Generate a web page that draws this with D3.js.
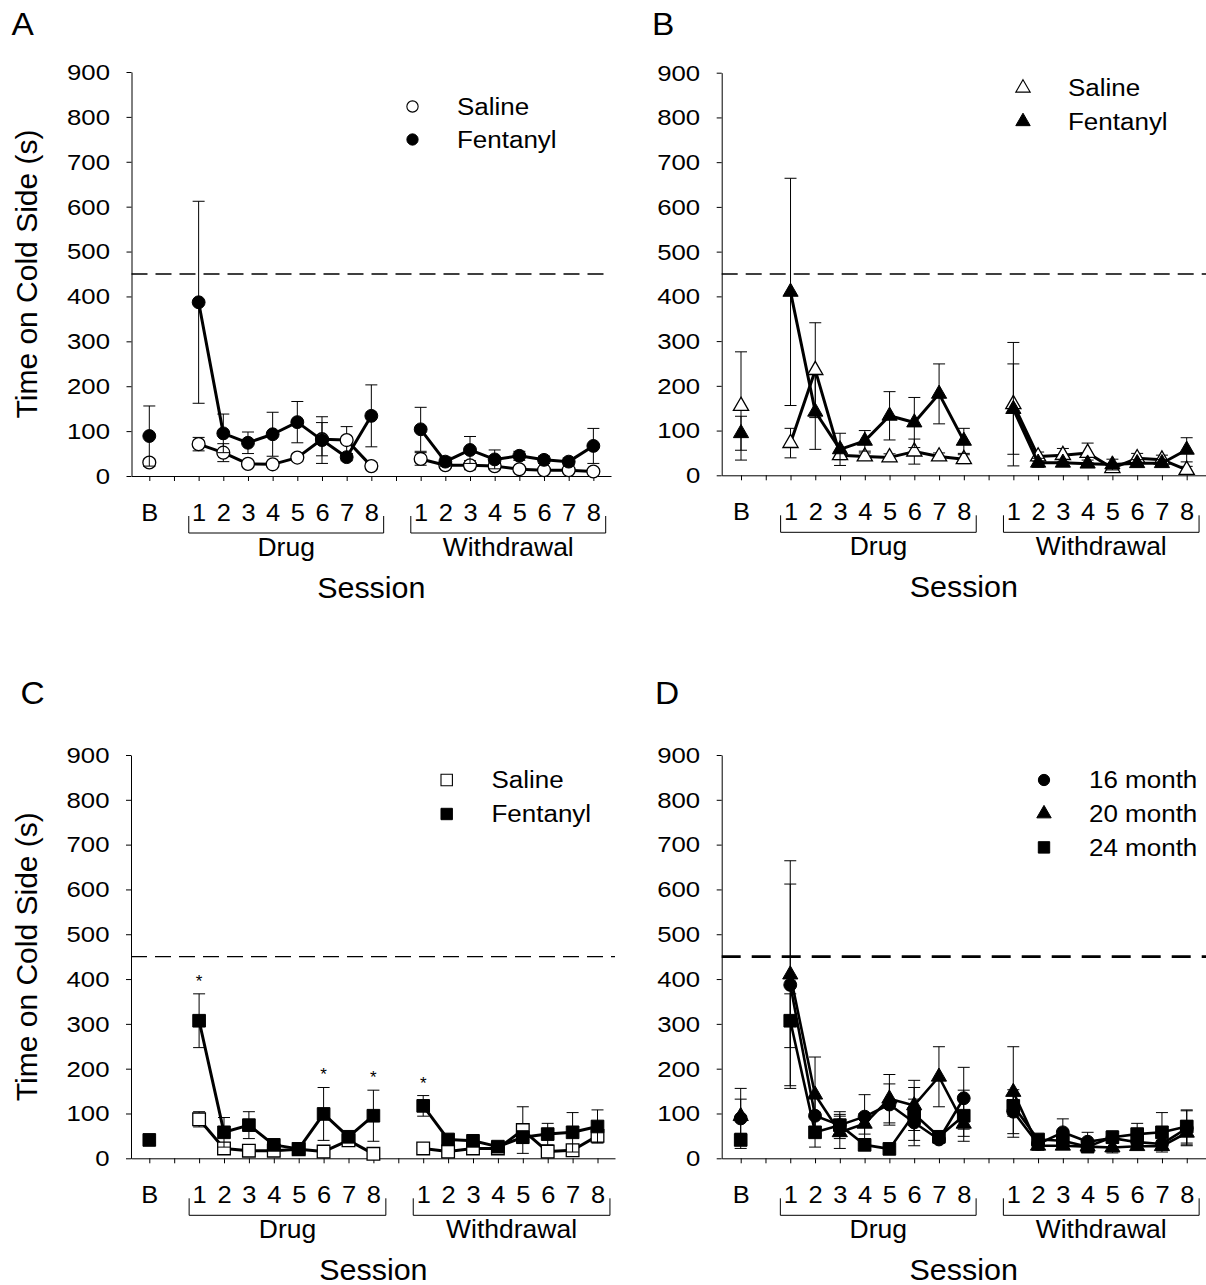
<!DOCTYPE html>
<html>
<head>
<meta charset="utf-8">
<script src="https://cdn.jsdelivr.net/npm/d3@7"></script>
<style>
  html, body { margin: 0; padding: 0; background: #fff; }
  svg { display: block; }
  text { font-family: "Liberation Sans", Arial, sans-serif; fill: #000; }
</style>
</head>
<body>
<svg id="fig" width="1206" height="1285"></svg>
<script>
// Session positions along the x axis: baseline, gap, 8 drug days, gap, 8 withdrawal days
const sessions = ["B", "", "1", "2", "3", "4", "5", "6", "7", "8", "", "1", "2", "3", "4", "5", "6", "7", "8"];
const phaseNames = ["Drug", "Withdrawal"];
const phaseStart = [2, 11];
const phaseEnd = [9, 18];
const yTicks = [0, 100, 200, 300, 400, 500, 600, 700, 800, 900];
const threshold = 450;

const legendTreat = ["Saline", "Fentanyl"];
const legendAge = ["16 month", "20 month", "24 month"];

// 16 month (circles)
const sal16Mean = [30, null, 71, 52, 27, 26, 41, 82, 80, 22, null, 38, 24, 24, 22, 15, 13, 13, 10];
const sal16Sem  = [8, null, 15, 20, 5, 5, 8, 37, 30, 8, null, 14, 6, 10, 8, 5, 5, 4, 5];
const fen16Mean = [89, null, 387, 95, 74, 93, 120, 80, 42, 134, null, 104, 32, 58, 37, 45, 36, 32, 67];
const fen16Sem  = [67, null, 225, 43, 24, 49, 46, 52, 8, 69, null, 49, 10, 30, 21, 10, 8, 8, 39];

// 20 month (triangles)
const sal20Mean = [155, null, 72, 235, 45, 42, 40, 53, 42, 36, null, 159, 42, 45, 50, 16, 38, 35, 12];
const sal20Sem  = [121, null, 33, 106, 10, 8, 8, 28, 8, 10, null, 138, 10, 15, 22, 6, 11, 10, 8];
const fen20Mean = [94, null, 410, 142, 58, 77, 133, 118, 182, 77, null, 148, 28, 28, 26, 24, 27, 27, 57];
const fen20Sem  = [38, null, 254, 84, 36, 23, 54, 56, 67, 28, null, 101, 10, 8, 8, 12, 8, 8, 27];

// 24 month (squares)
const sal24Mean = [null, null, 87, 22, 17, 17, 20, 15, 40, 10, null, 22, 15, 22, 22, 63, 15, 18, 50];
const sal24Sem  = [null, null, 17, 10, 5, 5, 5, 5, 12, 5, null, 6, 5, 5, 6, 52, 5, 6, 15];
const fen24Mean = [41, null, 307, 58, 74, 30, 21, 99, 48, 95, null, 117, 42, 39, 26, 47, 54, 58, 71];
const fen24Sem  = [5, null, 60, 33, 30, 8, 5, 59, 12, 57, null, 23, 8, 8, 6, 14, 24, 44, 37];
const fen24Sig  = [2, 7, 9, 11];   // sessions marked with an asterisk

const FONT = '"Liberation Sans", Arial, sans-serif';
const svg = d3.select("#fig");

// widen glyphs horizontally around their anchor point
function widen(sel, sx) {
  sel.each(function () {
    const t = d3.select(this);
    const x = +(t.attr("x") || 0);
    t.attr("x", x / sx).attr("transform", `scale(${sx},1)`);
  });
}

const panels = [
  { letter: "A", lx: 11.5, ly: 35, left: 131.5, x0: 149.3, step: 24.67, right: 611, top: 72, bottom: 476,
    yTitle: true, dash: "16,8", dashW: 1.3, lineW: 3,
    legend: { x: 412.5, y: 106.5, dy: 33, tx: 457, labels: legendTreat },
    series: [
      { mean: sal16Mean, sem: sal16Sem, shape: d3.symbolCircle, filled: false },
      { mean: fen16Mean, sem: fen16Sem, shape: d3.symbolCircle, filled: true }
    ] },
  { letter: "B", lx: 652, ly: 35, left: 721.7, x0: 741, step: 24.76, right: 1206, top: 72.7, bottom: 475.3,
    yTitle: false, dash: "16,8", dashW: 1.3, lineW: 3,
    legend: { x: 1023, y: 88, dy: 33.5, tx: 1068, labels: legendTreat },
    series: [
      { mean: sal20Mean, sem: sal20Sem, shape: d3.symbolTriangle, filled: false },
      { mean: fen20Mean, sem: fen20Sem, shape: d3.symbolTriangle, filled: true }
    ] },
  { letter: "C", lx: 20.5, ly: 704, left: 131, x0: 149.3, step: 24.9, right: 615, top: 755, bottom: 1158.3,
    yTitle: true, dash: "16,8", dashW: 1.3, lineW: 3, sig: { mean: fen24Mean, sem: fen24Sem, at: fen24Sig },
    legend: { x: 446.7, y: 780, dy: 34, tx: 491.5, labels: legendTreat },
    series: [
      { mean: sal24Mean, sem: sal24Sem, shape: d3.symbolSquare, filled: false },
      { mean: fen24Mean, sem: fen24Sem, shape: d3.symbolSquare, filled: true }
    ] },
  { letter: "D", lx: 655, ly: 704, left: 721.7, x0: 740.7, step: 24.78, right: 1206, top: 755, bottom: 1158.3,
    yTitle: false, dash: "19,11", dashW: 2.6, lineW: 2.6,
    legend: { x: 1044, y: 780, dy: 33.7, tx: 1089, labels: legendAge },
    legendShapes: [d3.symbolCircle, d3.symbolTriangle, d3.symbolSquare],
    series: [
      { mean: fen20Mean, sem: fen20Sem, shape: d3.symbolTriangle, filled: true },
      { mean: fen16Mean, sem: fen16Sem, shape: d3.symbolCircle, filled: true },
      { mean: fen24Mean, sem: fen24Sem, shape: d3.symbolSquare, filled: true }
    ] }
];

function markSize(shape, legend) {
  if (shape === d3.symbolCircle) return legend ? 100 : 130;
  if (shape === d3.symbolTriangle) return legend ? 90 : 100;
  return legend ? 130 : 160;
}

panels.forEach(p => {
  const g = svg.append("g");
  const x = d3.scaleLinear()
    .domain([(p.left - p.x0) / p.step, (p.right - p.x0) / p.step])
    .range([p.left, p.right]);
  const y = d3.scaleLinear().domain([0, 900]).range([p.bottom, p.top]);

  // panel letter
  widen(g.append("text").attr("x", p.lx).attr("y", p.ly)
    .attr("font-size", 31).text(p.letter), 1.08);

  // y axis
  const ya = g.append("g").attr("transform", `translate(${p.left},0)`)
    .call(d3.axisLeft(y).tickValues(yTicks).tickSize(5).tickSizeOuter(0).tickPadding(16.5));
  ya.attr("font-family", null).attr("font-size", null);
  ya.selectAll("text").attr("font-size", 23).style("font-family", FONT);
  widen(ya.selectAll("text"), 1.12);
  ya.selectAll("line, path").attr("stroke", "#000").attr("stroke-width", 1);

  // x axis
  const xa = g.append("g").attr("transform", `translate(0,${p.bottom})`)
    .call(d3.axisBottom(x).tickValues(d3.range(sessions.length)).tickFormat(i => sessions[i])
      .tickSize(5).tickSizeOuter(0).tickPadding(22.5));
  xa.attr("font-family", null).attr("font-size", null);
  xa.selectAll("text").attr("font-size", 24).style("font-family", FONT);
  widen(xa.selectAll("text"), 1.06);
  xa.selectAll("line, path").attr("stroke", "#000").attr("stroke-width", 1);

  // phase brackets and names
  phaseNames.forEach((name, k) => {
    const xs = x(phaseStart[k] - 0.4), xe = x(phaseEnd[k] + 0.5);
    g.append("path")
      .attr("d", `M${xs},${p.bottom + 40}V${p.bottom + 57}H${xe}V${p.bottom + 40}`)
      .attr("fill", "none").attr("stroke", "#000").attr("stroke-width", 1);
    widen(g.append("text").attr("x", (xs + xe) / 2).attr("y", p.bottom + 80)
      .attr("text-anchor", "middle").attr("font-size", 25).text(name), 1.06);
  });

  // x axis title
  widen(g.append("text").attr("x", x((sessions.length - 1) / 2)).attr("y", p.bottom + 122)
    .attr("text-anchor", "middle").attr("font-size", 29).text("Session"), 1.05);

  // y axis title
  if (p.yTitle) {
    g.append("text")
      .attr("transform", `translate(37,${(p.top + p.bottom) / 2}) rotate(-90)`)
      .attr("text-anchor", "middle").attr("font-size", 30).text("Time on Cold Side (s)");
  }

  // threshold line
  g.append("line").attr("x1", p.left).attr("x2", p.right)
    .attr("y1", y(threshold)).attr("y2", y(threshold))
    .attr("stroke", "#000").attr("stroke-width", p.dashW).attr("stroke-dasharray", p.dash);

  // data series
  p.series.forEach(s => {
    const pts = s.mean.map((m, i) => ({ i, m, e: s.sem[i] })).filter(d => d.m != null);
    const eg = g.append("g").attr("stroke", "#000").attr("stroke-width", 1).attr("fill", "none");
    pts.forEach(d => {
      const cx = x(d.i), y1 = y(d.m + d.e), y2 = y(Math.max(0, d.m - d.e));
      eg.append("path").attr("d", `M${cx},${y1}V${y2}M${cx - 6},${y1}H${cx + 6}M${cx - 6},${y2}H${cx + 6}`);
    });
    const line = d3.line().defined(d => d.m != null)
      .x(d => x(d.i)).y(d => y(d.m));
    g.append("path")
      .datum(s.mean.map((m, i) => ({ i, m })))
      .attr("d", line)
      .attr("fill", "none").attr("stroke", "#000").attr("stroke-width", p.lineW)
      .attr("stroke-linejoin", "round");
    g.append("g").selectAll("path").data(pts).join("path")
      .attr("transform", d => `translate(${x(d.i)},${y(d.m)})`)
      .attr("d", d3.symbol(s.shape, markSize(s.shape, false)))
      .attr("fill", s.filled ? "#000" : "#fff")
      .attr("stroke", "#000").attr("stroke-width", s.filled ? 1 : 1.3);
  });

  // significance markers
  if (p.sig) {
    p.sig.at.forEach(i => {
      g.append("text").attr("x", x(i)).attr("y", y(p.sig.mean[i] + p.sig.sem[i]) - 7)
        .attr("text-anchor", "middle").attr("font-size", 17).text("*");
    });
  }

  // legend
  p.legend.labels.forEach((lab, k) => {
    const s = p.legendShapes ? { shape: p.legendShapes[k], filled: true } : p.series[k];
    const ly = p.legend.y + k * p.legend.dy;
    g.append("path").attr("transform", `translate(${p.legend.x},${ly})`)
      .attr("d", d3.symbol(s.shape, markSize(s.shape, true)))
      .attr("fill", s.filled ? "#000" : "#fff")
      .attr("stroke", "#000").attr("stroke-width", s.filled ? 1 : 1.1);
    widen(g.append("text").attr("x", p.legend.tx).attr("y", ly).attr("dy", "0.36em")
      .attr("font-size", 23).text(lab), 1.13);
  });
});
</script>
</body>
</html>
